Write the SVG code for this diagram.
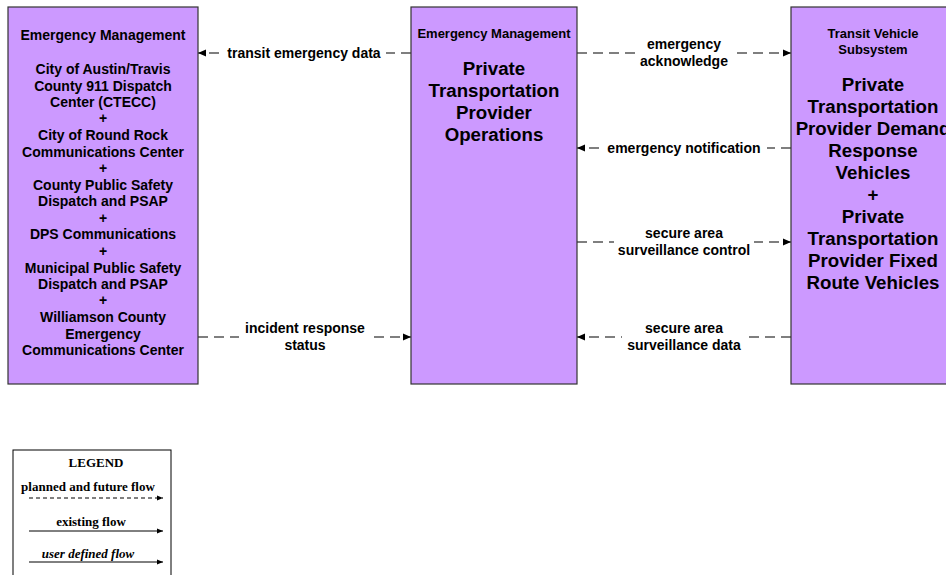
<svg xmlns="http://www.w3.org/2000/svg" width="946" height="575" viewBox="0 0 946 575">
<defs>
<marker id="ah" markerWidth="8" markerHeight="8" refX="8" refY="4" orient="auto" markerUnits="userSpaceOnUse">
<path d="M0,0.5 L8,4 L0,7.5 Z" fill="#000"/>
</marker>
<marker id="lh" markerWidth="6" markerHeight="6" refX="6" refY="3" orient="auto" markerUnits="userSpaceOnUse">
<path d="M0,0.5 L6,3 L0,5.5 Z" fill="#000"/>
</marker>
<style>
.box{fill:#CC99FF;stroke:#333;stroke-width:1.2}
.t{font-family:"Liberation Sans",Arial,sans-serif;font-weight:bold;fill:#000;text-anchor:middle}
.s14{font-size:14px}
.s13{font-size:13px}
.s18{font-size:18.7px}
.flow{stroke:#000;stroke-width:1.2;stroke-dasharray:10 6;fill:none;marker-end:url(#ah)}
.lbg{fill:#fff}
.lg{font-family:"Liberation Serif","Times New Roman",serif;font-weight:bold;font-size:13px;text-anchor:middle}
</style>
</defs>
<rect width="946" height="575" fill="#fff"/>

<g id="connectors">
<line class="flow" x1="411" y1="53" x2="198" y2="53"/>
<rect class="lbg" x="222" y="44" width="164" height="18"/>
<text class="t s14" x="304" y="58">transit emergency data</text>

<line class="flow" x1="198" y1="337" x2="411" y2="337"/>
<rect class="lbg" x="239" y="319" width="132" height="36"/>
<text class="t s14" x="305" y="333">incident response</text>
<text class="t s14" x="305" y="350">status</text>

<line class="flow" x1="577" y1="53" x2="791" y2="53"/>
<rect class="lbg" x="635" y="35" width="98" height="36"/>
<text class="t s14" x="684" y="49">emergency</text>
<text class="t s14" x="684" y="66">acknowledge</text>

<line class="flow" x1="791" y1="148" x2="577" y2="148"/>
<rect class="lbg" x="601" y="139" width="166" height="18"/>
<text class="t s14" x="684" y="153">emergency notification</text>

<line class="flow" x1="577" y1="242" x2="791" y2="242"/>
<rect class="lbg" x="614" y="224" width="140" height="36"/>
<text class="t s14" x="684" y="238">secure area</text>
<text class="t s14" x="684" y="255">surveillance control</text>

<line class="flow" x1="791" y1="337" x2="577" y2="337"/>
<rect class="lbg" x="622" y="319" width="124" height="36"/>
<text class="t s14" x="684" y="333">secure area</text>
<text class="t s14" x="684" y="350">surveillance data</text>
</g>

<g id="node-emergency-left">
<rect class="box" x="8" y="7" width="190" height="377"/>
<text class="t s14" x="103" y="40">Emergency Management</text>
<text class="t s14" x="103" y="74">City of Austin/Travis</text>
<text class="t s14" x="103" y="91">County 911 Dispatch</text>
<text class="t s14" x="103" y="107">Center (CTECC)</text>
<text class="t s14" x="103" y="123">+</text>
<text class="t s14" x="103" y="140">City of Round Rock</text>
<text class="t s14" x="103" y="157">Communications Center</text>
<text class="t s14" x="103" y="173">+</text>
<text class="t s14" x="103" y="190">County Public Safety</text>
<text class="t s14" x="103" y="206">Dispatch and PSAP</text>
<text class="t s14" x="103" y="223">+</text>
<text class="t s14" x="103" y="239">DPS Communications</text>
<text class="t s14" x="103" y="256">+</text>
<text class="t s14" x="103" y="273">Municipal Public Safety</text>
<text class="t s14" x="103" y="289">Dispatch and PSAP</text>
<text class="t s14" x="103" y="305">+</text>
<text class="t s14" x="103" y="322">Williamson County</text>
<text class="t s14" x="103" y="339">Emergency</text>
<text class="t s14" x="103" y="355">Communications Center</text>
</g>

<g id="node-private-ops">
<rect class="box" x="411" y="7" width="166" height="377"/>
<text class="t s13" x="494" y="38">Emergency Management</text>
<text class="t s18" x="494" y="75">Private</text>
<text class="t s18" x="494" y="97">Transportation</text>
<text class="t s18" x="494" y="119">Provider</text>
<text class="t s18" x="494" y="141">Operations</text>
</g>

<g id="node-transit-vehicle">
<rect class="box" x="791" y="7" width="170" height="377"/>
<text class="t s13" x="873" y="38">Transit Vehicle</text>
<text class="t s13" x="873" y="54">Subsystem</text>
<text class="t s18" x="873" y="91">Private</text>
<text class="t s18" x="873" y="113">Transportation</text>
<text class="t s18" x="873" y="135">Provider Demand</text>
<text class="t s18" x="873" y="157">Response</text>
<text class="t s18" x="873" y="179">Vehicles</text>
<text class="t s18" x="873" y="201">+</text>
<text class="t s18" x="873" y="223">Private</text>
<text class="t s18" x="873" y="245">Transportation</text>
<text class="t s18" x="873" y="267">Provider Fixed</text>
<text class="t s18" x="873" y="289">Route Vehicles</text>
</g>

<g id="legend">
<rect x="13" y="450" width="158" height="130" fill="#fff" stroke="#000" stroke-width="1"/>
<text class="lg" x="96" y="467">LEGEND</text>
<text class="lg" x="88" y="491">planned and future flow</text>
<line x1="29" y1="498" x2="163" y2="498" stroke="#000" stroke-width="1" stroke-dasharray="4 3" marker-end="url(#lh)"/>
<text class="lg" x="91" y="526">existing flow</text>
<line x1="29" y1="531" x2="163" y2="531" stroke="#000" stroke-width="1" marker-end="url(#lh)"/>
<text class="lg" x="88" y="558" font-style="italic">user defined flow</text>
<line x1="29" y1="562" x2="163" y2="562" stroke="#000" stroke-width="1" marker-end="url(#lh)"/>
</g>
</svg>
